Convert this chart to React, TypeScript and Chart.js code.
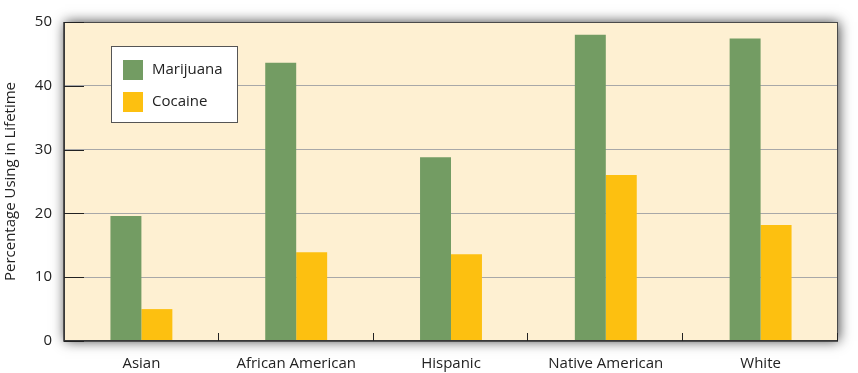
import React, { useEffect, useRef } from "react";
import { Chart, registerables } from "chart.js";

Chart.register(...registerables);

const categories = ["Asian", "African American", "Hispanic", "Native American", "White"];
const marijuana = [19.6, 43.6, 28.8, 48.0, 47.4];
const cocaine = [5.0, 13.9, 13.6, 26.0, 18.2];
const yTicks = [0, 10, 20, 30, 40, 50];

const GREEN = "#739c63";
const YELLOW = "#fdc010";
const FONT = "'Open Sans', 'DejaVu Sans', sans-serif";

const decorPlugin = {
  id: "decor",
  beforeDraw(chart: any) {
    const { ctx, chartArea: a } = chart;
    ctx.save();
    ctx.shadowColor = "rgba(0,0,0,0.75)";
    ctx.shadowBlur = 12;
    ctx.shadowOffsetX = 1;
    ctx.shadowOffsetY = 0;
    ctx.fillStyle = "#fef0d2";
    ctx.fillRect(a.left, a.top, a.right - a.left, a.bottom - a.top);
    ctx.restore();
  },
  afterDatasetsDraw(chart: any) {
    const { ctx, chartArea: a, scales } = chart;
    const y = scales.y;
    ctx.save();
    // border
    ctx.strokeStyle = "#4a4a4a";
    ctx.lineWidth = 1;
    ctx.strokeRect(a.left + 0.5, a.top + 0.5, a.right - a.left - 1, a.bottom - a.top - 1);
    ctx.lineWidth = 1.5;
    ctx.strokeStyle = "#333";
    ctx.beginPath();
    ctx.moveTo(a.left, a.top);
    ctx.lineTo(a.left, a.bottom);
    ctx.lineTo(a.right, a.bottom);
    ctx.stroke();
    // y inner ticks
    ctx.lineWidth = 1;
    ctx.strokeStyle = "#222";
    yTicks.forEach((v) => {
      const py = Math.round(y.getPixelForValue(v)) + 0.5;
      ctx.beginPath();
      ctx.moveTo(a.left, py);
      ctx.lineTo(a.left + 20, py);
      ctx.stroke();
    });
    // x inner ticks at category boundaries
    const n = categories.length;
    const w = (a.right - a.left) / n;
    for (let k = 1; k <= n; k++) {
      const px = Math.round(a.left + w * k) - 0.5;
      ctx.beginPath();
      ctx.moveTo(px, a.bottom);
      ctx.lineTo(px, a.bottom - 8);
      ctx.stroke();
    }
    // legend
    const lx = 111, ly = 46, lw = 126, lh = 76;
    ctx.fillStyle = "#ffffff";
    ctx.fillRect(lx, ly, lw, lh);
    ctx.strokeStyle = "#555";
    ctx.lineWidth = 1;
    ctx.strokeRect(lx + 0.5, ly + 0.5, lw, lh);
    chart.data.datasets.forEach((ds: any, i: number) => {
      const sy = 60 + i * 32;
      ctx.fillStyle = ds.backgroundColor;
      ctx.fillRect(123, sy, 20, 20);
      ctx.fillStyle = "#222";
      ctx.font = `15px ${FONT}`;
      ctx.textBaseline = "middle";
      ctx.textAlign = "left";
      ctx.fillText(ds.label, 152, sy + 10);
    });
    ctx.restore();
  },
};

export default function App() {
  const ref = useRef<HTMLCanvasElement>(null);
  useEffect(() => {
    document.body.style.margin = "0";
    const chart = new Chart(ref.current!, {
      type: "bar",
      data: {
        labels: categories,
        datasets: [
          { label: "Marijuana", data: marijuana, backgroundColor: GREEN },
          { label: "Cocaine", data: cocaine, backgroundColor: YELLOW },
        ],
      },
      options: {
        animation: false,
        responsive: false,
        layout: { padding: { left: 2, top: 22, right: 20, bottom: 0 } },
        datasets: { bar: { categoryPercentage: 0.4, barPercentage: 1.0 } },
        plugins: { legend: { display: false }, tooltip: { enabled: false } },
        scales: {
          x: {
            grid: { display: false },
            border: { display: false },
            ticks: { color: "#222", font: { family: FONT, size: 15 }, padding: 6 },
            afterFit(s: any) { s.height = 32; },
          },
          y: {
            min: 0,
            max: 50,
            afterBuildTicks(s: any) { s.ticks = yTicks.map((v) => ({ value: v })); },
            grid: {
              color: (c: any) => (c.tick && (c.tick.value === 0 || c.tick.value === 50) ? "rgba(0,0,0,0)" : "#a8a8a8"),
              drawTicks: false,
              lineWidth: 1,
            },
            border: { display: false },
            ticks: { color: "#222", font: { family: FONT, size: 15 }, padding: 12 },
            title: { display: true, text: "Percentage Using in Lifetime", color: "#222", font: { family: FONT, size: 15 }, padding: { top: 0, bottom: 2 } },
            afterFit(s: any) { s.width = 62; },
          },
        },
      },
      plugins: [decorPlugin],
    });
    return () => chart.destroy();
  }, []);
  return <canvas ref={ref} width={858} height={373} style={{ display: "block" }} />;
}
